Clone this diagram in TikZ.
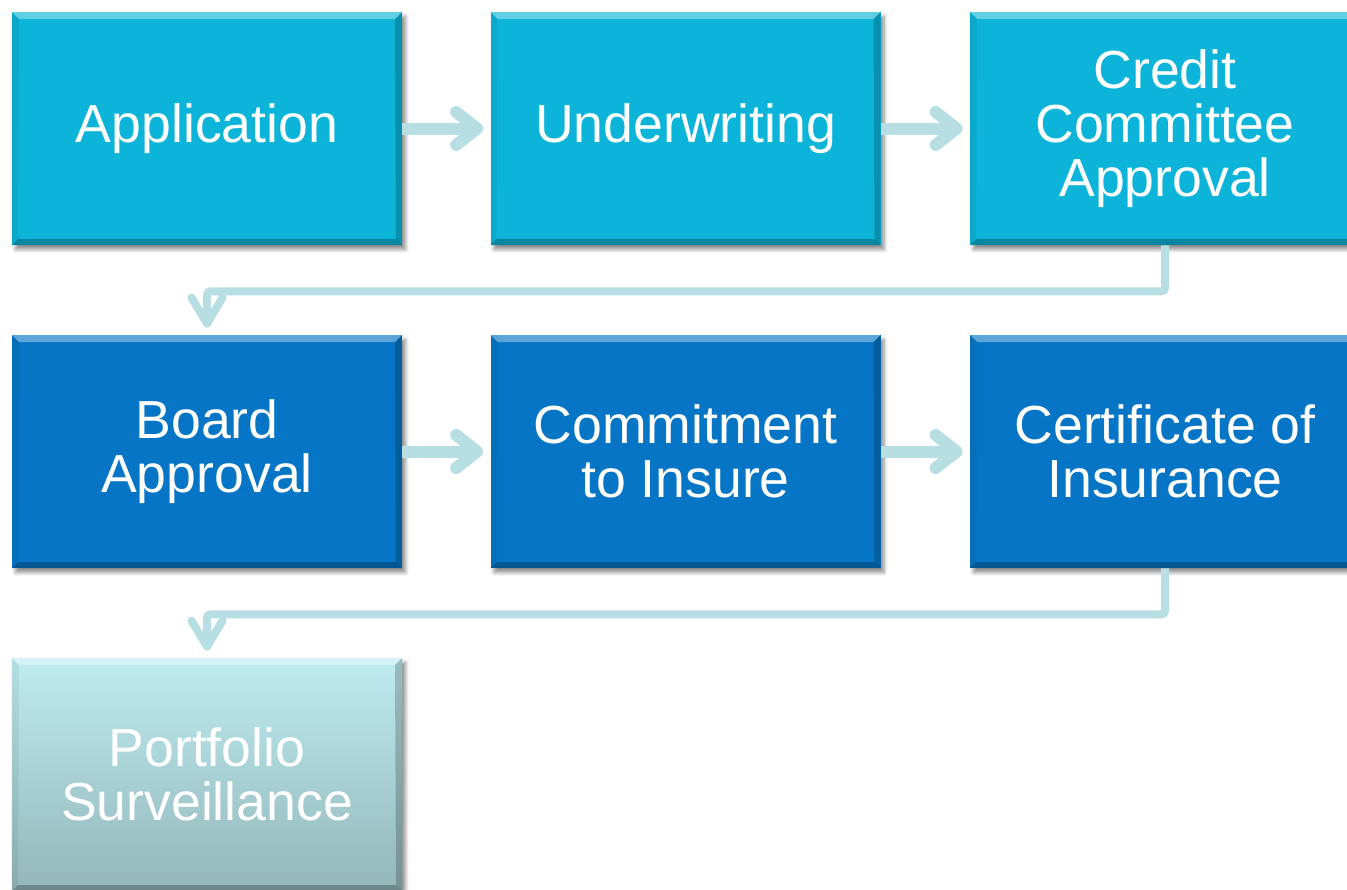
\documentclass[tikz,border=0pt]{standalone}
\usepackage{fontspec}
\setmainfont{Liberation Sans}
\usetikzlibrary{arrows.meta,shadows.blur}

\definecolor{stepcyan}{HTML}{0BB4D8}
\definecolor{stepblue}{HTML}{0675C5}
\definecolor{steppaletop}{HTML}{BEECF1}
\definecolor{steppalebot}{HTML}{93B6B9}
\definecolor{flowline}{HTML}{B7DEE2}

% raised edges of a box
\newcommand{\bevelbox}{%
  \fill[white, opacity=0.35] (path picture bounding box.north west) -- (path picture bounding box.north east)
    -- ([shift={(-0.14,-0.14)}]path picture bounding box.north east) -- ([shift={(0.14,-0.14)}]path picture bounding box.north west) -- cycle;
  \fill[black, opacity=0.25] (path picture bounding box.south west) -- (path picture bounding box.south east)
    -- ([shift={(-0.12,0.12)}]path picture bounding box.south east) -- ([shift={(0.12,0.12)}]path picture bounding box.south west) -- cycle;
  \fill[black, opacity=0.2] (path picture bounding box.north east) -- (path picture bounding box.south east)
    -- ([shift={(-0.12,0.12)}]path picture bounding box.south east) -- ([shift={(-0.14,-0.14)}]path picture bounding box.north east) -- cycle;
  \fill[black, opacity=0.06] (path picture bounding box.north west) -- (path picture bounding box.south west)
    -- ([shift={(0.12,0.12)}]path picture bounding box.south west) -- ([shift={(0.14,-0.14)}]path picture bounding box.north west) -- cycle;
}

\begin{document}
\begin{tikzpicture}[auto,
    stage/.style ={rectangle, minimum width=7.8cm, minimum height=4.66cm, inner sep=0pt,
        text=white, align=center, font=\fontsize{30.5}{30.9}\selectfont,
        blur shadow={shadow xshift=0.07cm, shadow yshift=-0.09cm, shadow blur steps=6, shadow opacity=45},
        path picture={\bevelbox}},
    flow/.style ={line width=0.24cm, draw=flowline, -{Straight Barb[length=0.42cm, width=0.66cm, round]},
        shorten >=0.14cm},
    turn/.style ={line width=0.16cm, draw=flowline, rounded corners=2pt,
        -{Straight Barb[length=0.52cm, width=0.62cm, round]}, shorten >=0.14cm}]
   \useasboundingbox (0,0) rectangle (26.94,-17.78);

   \node[stage, fill=stepcyan] (app)    at (4.14,-2.57)  {Application};
   \node[stage, fill=stepcyan] (uw)     at (13.71,-2.57) {Underwriting};
   \node[stage, fill=stepcyan] (ccom)   at (23.30,-2.57) {Credit\\Committee\\Approval};
   \node[stage, fill=stepblue] (board)  at (4.14,-9.03)  {Board\\Approval};
   \node[stage, fill=stepblue] (commit) at (13.71,-9.03) {Commitment\\to Insure};
   \node[stage, fill=stepblue] (cert)   at (23.30,-9.03) {Certificate of\\Insurance};
   \node[stage, top color=steppaletop, bottom color=steppalebot] (port) at (4.14,-15.49) {Portfolio\\Surveillance};

   \draw[flow] (app) to (uw);
   \draw[flow] (uw) to (ccom);
   \draw[flow] (board) to (commit);
   \draw[flow] (commit) to (cert);
   \draw[turn] (ccom.south) -- ++(0,-0.92) -| (board.north);
   \draw[turn] (cert.south) -- ++(0,-0.92) -| (port.north);
 \end{tikzpicture}
\end{document}
